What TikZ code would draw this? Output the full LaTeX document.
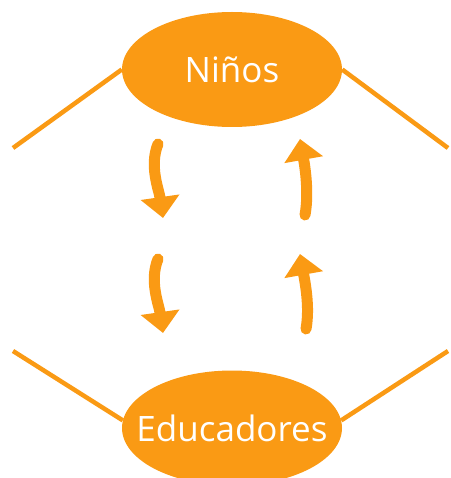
\documentclass[tikz,border=0pt]{standalone}
\usepackage{fontspec}
\setmainfont{Open Sans}
\usepackage{tikz}
\usetikzlibrary{shapes.geometric}
\usetikzlibrary{arrows.meta}

\definecolor{naranja}{RGB}{250,154,20}

\tikzset{
    grupo/.style = {ellipse, fill = naranja, text = white, inner ysep = 0pt, inner xsep = -40pt,
        minimum width = 220pt, minimum height = 115pt, font = \fontsize{35}{40}\selectfont},
    enlace/.style = {draw = naranja, line width = 4.5pt},
    flecha/.style = {draw = naranja, line width = 11pt, line cap = round,
        -{Triangle[width = 38pt, length = 21pt]}}
}

\begin{document}
\begin{tikzpicture}[x = 1pt, y = -1pt]
    \useasboundingbox (0, 0) rectangle (450, 478);

        \node[grupo] (ninos) at (232, 69.5) {Niños};
        \node[grupo] (educadores) at (232, 428) {Educadores};

        \coordinate (ninosIzq) at (13, 148);
        \coordinate (ninosDer) at (448, 148);
        \coordinate (educIzq) at (13, 351);
        \coordinate (educDer) at (448, 351);

                \draw[enlace] (ninosIzq) -- (ninos.west);
                \draw[enlace] (ninos.east) -- (ninosDer);
                \draw[enlace] (educIzq) -- (educadores.176);
                \draw[enlace] (educadores.4) -- (educDer);

        % flechas hacia abajo
        \coordinate (bajaA1) at (158, 144);
        \coordinate (bajaA2) at (163, 218);
        \coordinate (bajaB1) at (158, 259);
        \coordinate (bajaB2) at (163, 333);
        % flechas hacia arriba
        \coordinate (subeA1) at (305, 215);
        \coordinate (subeA2) at (300, 139);
        \coordinate (subeB1) at (306, 329);
        \coordinate (subeB2) at (300, 254);

                \draw[flecha] (bajaA1) .. controls +(-9, 22) and +(-4, -28) .. (bajaA2);
                \draw[flecha] (bajaB1) .. controls +(-9, 22) and +(-4, -28) .. (bajaB2);
                \draw[flecha] (subeA1) .. controls +(4, -22) and +(5, 28) .. (subeA2);
                \draw[flecha] (subeB1) .. controls +(4, -22) and +(5, 28) .. (subeB2);
\end{tikzpicture}
\end{document}
